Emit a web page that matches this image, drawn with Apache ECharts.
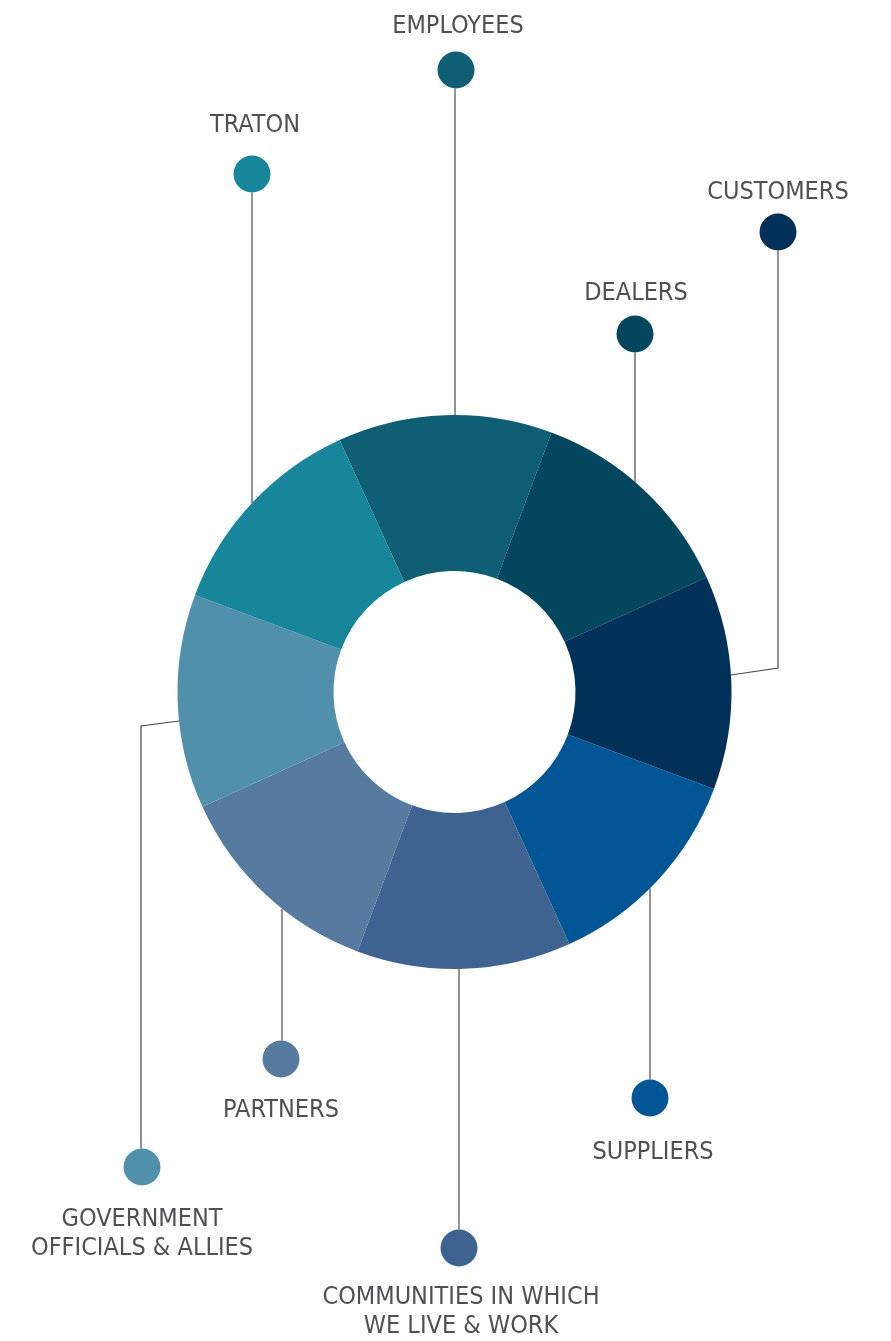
<!DOCTYPE html>
<html>
<head>
<meta charset="utf-8">
<script src="https://cdn.jsdelivr.net/npm/echarts@6/dist/echarts.min.js"></script>
<style>
  html, body { margin: 0; padding: 0; background: #fff; }
  #chart { width: 891px; height: 1341px; }
</style>
</head>
<body>
<div id="chart"></div>
<script>
// stakeholder groups, clockwise from the top
const names = [
  'EMPLOYEES', 'DEALERS', 'CUSTOMERS', 'SUPPLIERS',
  'COMMUNITIES IN WHICH\nWE LIVE & WORK', 'PARTNERS',
  'GOVERNMENT\nOFFICIALS & ALLIES', 'TRATON'
]
const shares = [1, 1, 1, 1, 1, 1, 1, 1]
const colors = [
  '#0f5e73', '#03465e', '#013059', '#005595',
  '#3f6390', '#567b9e', '#5190ab', '#17869a'
]

// label placement (text centre, dot centre, leader x, elbow)
const textX = [458, 636, 778, 653, 461, 281, 142, 255]
const textY = [26, 293, 192, 1152, 1312, 1110, 1234, 125]
const dotX = [456, 635, 778, 650, 459, 281, 142, 252]
const dotY = [70, 334, 232, 1098, 1248, 1059, 1167, 174]
const lineX = [455, 635, 778, 650, 459, 282, 141, 252]
const bendY = [null, null, 668, null, null, null, 726, null]
const endY = [null, null, 675, null, null, null, 721, null]

// ring geometry
const cx = 454.5
const cy = 692
const R = 277
const r = 121
const dotR = 18.5

const edgeY = (x, below) => cy + (below ? 1 : -1) * Math.sqrt(R * R - (x - cx) * (x - cx))
const edgeX = (y, right) => cx + (right ? 1 : -1) * Math.sqrt(R * R - (y - cy) * (y - cy))

const data = names.map((n, i) => ({ name: n, value: shares[i], itemStyle: { color: colors[i] } }))

const dotRich = {}
colors.forEach((c, i) => {
  dotRich['d' + i] = { width: dotR * 2, height: dotR * 2, borderRadius: dotR, backgroundColor: c }
})

const chart = echarts.init(document.getElementById('chart'))

const base = {
  type: 'pie',
  center: [cx, cy],
  radius: [r, R],
  startAngle: 114.5,
  clockwise: true,
  avoidLabelOverlap: false,
  emphasis: { disabled: true },
  animation: false
}

chart.setOption({
  backgroundColor: '#fff',
  series: [
    Object.assign({}, base, {
      data,
      label: {
        show: true,
        position: 'outside',
        fontFamily: "'Liberation Sans Narrow', 'DejaVu Sans Condensed', Roboto, sans-serif",
        fontSize: 25,
        lineHeight: 29,
        color: '#505052',
        align: 'center'
      },
      labelLine: { show: false },
      labelLayout: (p) => ({
        x: textX[p.dataIndex],
        y: textY[p.dataIndex],
        align: 'center',
        verticalAlign: 'middle'
      })
    }),
    Object.assign({}, base, {
      silent: true,
      data: names.map((n, i) => ({ name: n, value: shares[i] })),
      itemStyle: { color: 'rgba(0,0,0,0)' },
      label: {
        show: true,
        position: 'outside',
        formatter: (p) => '{d' + p.dataIndex + '| }',
        rich: dotRich
      },
      labelLine: {
        show: true,
        lineStyle: { color: '#4a4a4a', width: 1.2 }
      },
      labelLayout: (p) => {
        const i = p.dataIndex
        const below = dotY[i] > cy
        const start = [lineX[i], dotY[i] + (below ? -dotR : dotR)]
        let pts
        if (bendY[i] != null) {
          pts = [start, [lineX[i], bendY[i]], [edgeX(endY[i], lineX[i] > cx), endY[i]]]
        } else {
          const end = [lineX[i], edgeY(lineX[i], below)]
          pts = [start, [lineX[i], (start[1] + end[1]) / 2], end]
        }
        return {
          x: dotX[i],
          y: dotY[i],
          align: 'center',
          verticalAlign: 'middle',
          labelLinePoints: pts
        }
      }
    })
  ]
})
</script>
</body>
</html>
